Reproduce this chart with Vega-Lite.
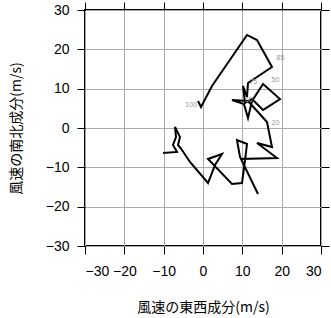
{
  "$schema": "https://vega.github.io/schema/vega-lite/v6.json",
  "width": 236,
  "height": 236,
  "autosize": {"type": "none"},
  "padding": {"left": 85, "top": 10, "right": 10, "bottom": 72},
  "config": {
    "view": {"stroke": "black", "strokeWidth": 2},
    "font": "Liberation Sans",
    "axis": {
      "labelFont": "Liberation Sans",
      "labelFontSize": 14,
      "labelColor": "black",
      "titleFont": "Noto Sans CJK JP",
      "titleFontSize": 14,
      "titleFontWeight": "normal",
      "titleColor": "black",
      "tickColor": "black",
      "tickSize": 8,
      "domain": false,
      "gridColor": "#aaaaaa",
      "gridWidth": 1,
      "gridOpacity": 1
    }
  },
  "datasets": {
    "path": [
      {"i": 1, "u": -10.17, "v": -6.36},
      {"i": 2, "u": -6.61, "v": -6.10},
      {"i": 3, "u": -7.63, "v": -4.32},
      {"i": 4, "u": -6.86, "v": -2.29},
      {"i": 5, "u": -7.12, "v": 0.25},
      {"i": 6, "u": -5.85, "v": -2.29},
      {"i": 7, "u": -6.36, "v": -4.32},
      {"i": 8, "u": -5.34, "v": -5.59},
      {"i": 9, "u": -3.31, "v": -8.64},
      {"i": 10, "u": 1.27, "v": -13.98},
      {"i": 11, "u": 3.05, "v": -9.41},
      {"i": 12, "u": 4.83, "v": -6.61},
      {"i": 13, "u": 1.27, "v": -7.88},
      {"i": 14, "u": 7.37, "v": -14.24},
      {"i": 15, "u": 9.92, "v": -13.98},
      {"i": 16, "u": 10.68, "v": -8.14},
      {"i": 17, "u": 11.19, "v": -4.07},
      {"i": 18, "u": 8.64, "v": -3.05},
      {"i": 19, "u": 9.41, "v": -7.37},
      {"i": 20, "u": 13.98, "v": -16.78},
      {"i": 21, "u": 9.66, "v": -7.88},
      {"i": 22, "u": 18.81, "v": -7.63},
      {"i": 23, "u": 13.73, "v": -3.81},
      {"i": 24, "u": 17.54, "v": -4.83},
      {"i": 25, "u": 16.27, "v": 1.53},
      {"i": 26, "u": 13.98, "v": 4.07},
      {"i": 27, "u": 11.44, "v": 6.86},
      {"i": 28, "u": 7.37, "v": 7.12},
      {"i": 29, "u": 10.42, "v": 6.10},
      {"i": 30, "u": 11.44, "v": 2.54},
      {"i": 31, "u": 12.46, "v": 6.86},
      {"i": 32, "u": 15.26, "v": 11.19},
      {"i": 33, "u": 19.58, "v": 7.37},
      {"i": 34, "u": 15.26, "v": 4.58},
      {"i": 35, "u": 12.46, "v": 7.37},
      {"i": 36, "u": 10.68, "v": 6.36},
      {"i": 37, "u": 10.17, "v": 10.68},
      {"i": 38, "u": 11.19, "v": 7.88},
      {"i": 39, "u": 11.44, "v": 11.44},
      {"i": 40, "u": 17.54, "v": 15.51},
      {"i": 41, "u": 13.73, "v": 22.37},
      {"i": 42, "u": 11.19, "v": 23.65},
      {"i": 43, "u": 2.29, "v": 10.68},
      {"i": 44, "u": -0.51, "v": 5.34},
      {"i": 45, "u": -1.27, "v": 6.86}
    ],
    "labels": [
      {"t": "100", "u": -3.0, "v": 5.9},
      {"t": "85", "u": 19.7, "v": 17.9},
      {"t": "50", "u": 18.4, "v": 12.3},
      {"t": "20", "u": 18.4, "v": 1.2},
      {"t": "75", "u": 12.8, "v": 11.7},
      {"t": "30", "u": 11.6, "v": 7.0}
    ]
  },
  "layer": [
    {
      "data": {"name": "path"},
      "mark": {"type": "line", "color": "black", "strokeWidth": 2, "strokeJoin": "miter", "clip": true},
      "encoding": {
        "x": {"field": "u", "type": "quantitative", "scale": {"domain": [-30, 30], "nice": false},
          "axis": {"orient": "bottom", "values": [-30, -20, -10, 0, 10, 20, 30], "grid": true, "labelPadding": 10, "title": "風速の東西成分(m/s)", "titlePadding": 22}},
        "y": {"field": "v", "type": "quantitative", "scale": {"domain": [-30, 30], "nice": false},
          "axis": {"orient": "left", "values": [-30, -20, -10, 0, 10, 20, 30], "grid": true, "labelPadding": 8, "title": "風速の南北成分(m/s)", "titlePadding": 22}},
        "order": {"field": "i", "type": "quantitative"}
      }
    },
    {
      "data": {"name": "labels"},
      "mark": {"type": "text", "color": "#999999", "fontSize": 7, "align": "center", "baseline": "middle"},
      "encoding": {
        "x": {"field": "u", "type": "quantitative", "scale": {"domain": [-30, 30], "nice": false},
          "axis": {"orient": "top", "values": [-30, -20, -10, 0, 10, 20, 30], "labels": false, "grid": false, "title": null}},
        "y": {"field": "v", "type": "quantitative", "scale": {"domain": [-30, 30], "nice": false},
          "axis": {"orient": "right", "values": [-30, -20, -10, 0, 10, 20, 30], "labels": false, "grid": false, "title": null}},
        "text": {"field": "t", "type": "nominal"}
      }
    }
  ],
  "resolve": {"axis": {"x": "independent", "y": "independent"}}
}
